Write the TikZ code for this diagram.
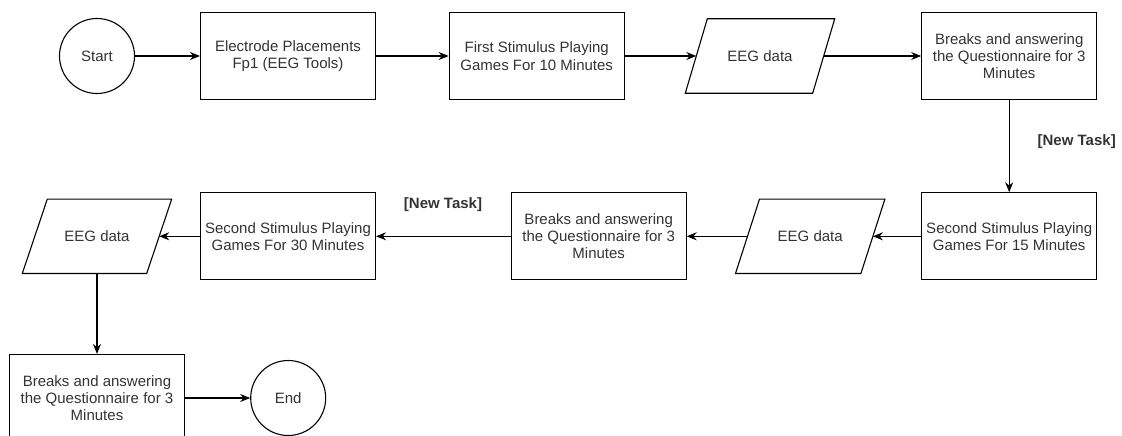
\documentclass[tikz,border=0pt]{standalone}
\usepackage{fontspec}
\setmainfont{Liberation Sans}
\usetikzlibrary{arrows.meta,calc}
\definecolor{txt}{RGB}{51,51,51}
\begin{document}
\begin{tikzpicture}[x=1pt,y=-1pt,
  every node/.style={font=\fontsize{15}{17.3}\selectfont, text=txt, align=center},
  proc/.style={draw, line width=1.1pt, minimum width=175pt, minimum height=87pt, inner sep=0pt},
  term/.style={draw, circle, line width=1.1pt, minimum size=75pt, inner sep=0pt},
  iobox/.style={minimum width=125pt, minimum height=74pt, inner sep=0pt},
  para/.style={draw, line width=1.1pt, line join=miter},
  flow/.style={-{Stealth[length=10pt,width=8pt]}, line width=1.1pt},
  lbl/.style={font=\fontsize{15}{17}\selectfont\bfseries, text=txt}
]
\useasboundingbox (0,0) rectangle (1122,436);
\clip (0,0) rectangle (1122,436);

\node[term] (start) at (97,56) {Start};
\node[proc] (b1) at (288,56) {Electrode Placements\\Fp1 (EEG Tools)};
\node[proc] (b2) at (536.7,56) {First Stimulus Playing\\Games For 10 Minutes};
\node[iobox, minimum width=127pt] (e1) at (760,56) {EEG data};
\node[proc] (b3) at (1009.2,56) {Breaks and answering\\the Questionnaire for 3\\Minutes};
\node[proc] (b4) at (1009.2,236.3) {Second Stimulus Playing\\Games For 15 Minutes};
\node[iobox] (e2) at (810.2,236.3) {EEG data};
\node[proc] (b5) at (598.7,236.3) {Breaks and answering\\the Questionnaire for 3\\Minutes};
\node[proc] (b6) at (288,236.3) {Second Stimulus Playing\\Games For 30 Minutes};
\node[iobox, minimum width=124pt] (e3) at (97,236.3) {EEG data};
\node[proc] (b7) at (97,398) {Breaks and answering\\the Questionnaire for 3\\Minutes};
\node[term] (end) at (288.2,398) {End};

\foreach \e/\s in {e1/11, e2/12, e3/12.5} {
  \draw[para] ($(\e.north west)+(\s,0)$) -- ($(\e.north east)+(\s,0)$)
    -- ($(\e.south east)+(-\s,0)$) -- ($(\e.south west)+(-\s,0)$) -- cycle;
}

\draw[flow] (start) -- (b1);
\draw[flow] (b1) -- (b2);
\draw[flow] (b2) -- (e1);
\draw[flow] (e1) -- (b3);
\draw[flow] (b3) -- (b4);
\draw[flow] (b4) -- (e2);
\draw[flow] (e2) -- (b5);
\draw[flow] (b5) -- (b6);
\draw[flow] (b6) -- (e3);
\draw[flow] (e3) -- (b7);
\draw[flow] (b7) -- (end);

\node[lbl] (t1) at (1076.7,141.7) {[New Task]};
\node[lbl] (t2) at (443,205) {[New Task]};
\end{tikzpicture}
\end{document}
